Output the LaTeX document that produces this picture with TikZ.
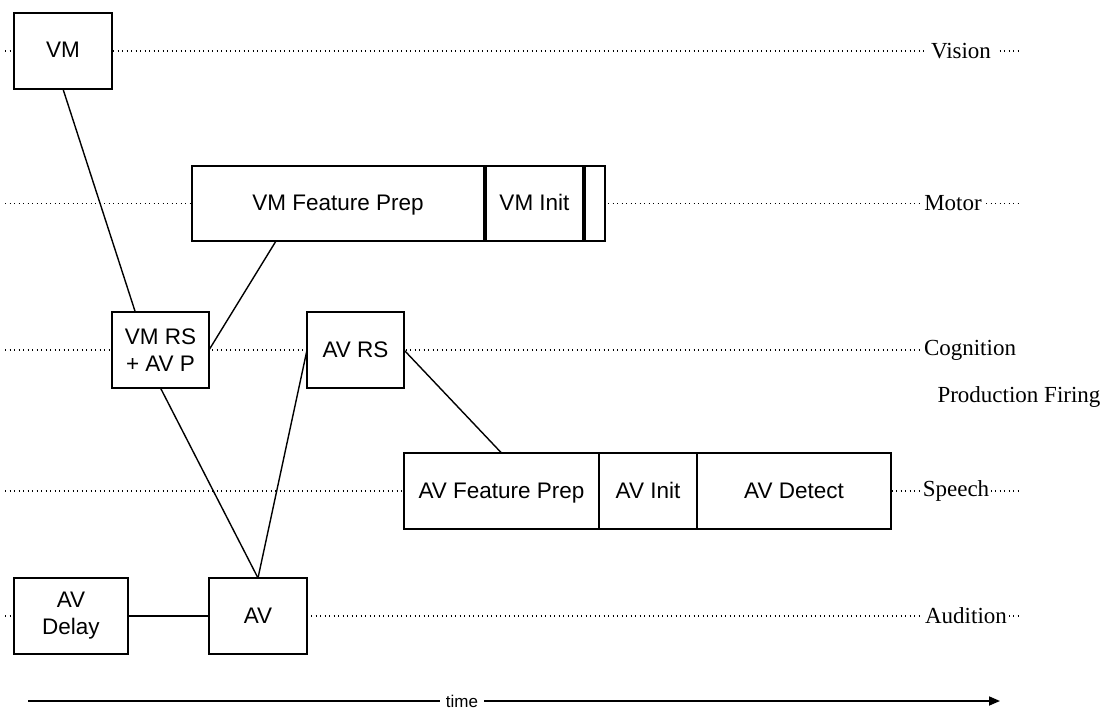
\documentclass[tikz,border=0pt]{standalone}
\usepackage{fontspec}
\setmainfont{Liberation Serif}
\setsansfont{Liberation Sans}
\usetikzlibrary{arrows.meta,positioning,calc}

\begin{document}
\begin{tikzpicture}[
  x=1pt, y=-1pt,
  box/.style={draw, line width=1.5pt, fill=white, outer sep=0pt, inner sep=0pt, minimum height=76pt, align=center, font=\sffamily\fontsize{22.5}{27}\selectfont},
  oneline/.style={text height=16pt, text depth=2pt},
  lane/.style={line width=1.4pt, dash pattern=on 1.4pt off 3.1pt},
  lanelabel/.style={fill=white, inner xsep=2pt, inner ysep=2pt, font=\fontsize{23}{26}\selectfont},
  link/.style={line width=1.4pt},
  timeline/.style={line width=1.7pt}
]
\useasboundingbox (0,0) rectangle (1109,709);

% dotted lanes
\foreach \lname/\ly in {vision/51, motor/203.5, cognition/350, speech/491, audition/616} {
  \coordinate (\lname-w) at (5,\ly);
  \coordinate (\lname-e) at (1018,\ly);
  \draw[lane] (\lname-w) -- (\lname-e);
}

\node[lanelabel, inner xsep=6pt] (vision) at (961,51) {Vision};
\node[lanelabel] (motor) at (953,203.5) {Motor};
\node[lanelabel, inner xsep=4pt] (cognition) at (970,350) {Cognition};
\node[font=\fontsize{23}{26}\selectfont] (prodfiring) at (1019,397) {Production Firing};
\node[lanelabel] (speech) at (956,491) {Speech};
\node[lanelabel] (audition) at (966,616) {Audition};

% boxes
\node[box, oneline, minimum width=98pt] (vm) at (63,51) {VM};
\node[box, oneline, minimum width=292pt, minimum height=75pt] (vmfp) at (338,203.5) {VM Feature Prep};
\node[box, oneline, minimum width=97pt, minimum height=75pt, right=2pt of vmfp] (vminit) {VM Init};
\node[box, minimum width=20pt, minimum height=75pt, right=2pt of vminit] (vmend) {};
\node[box, minimum width=97pt] (vmrs) at (160.5,350) {VM RS\\+ AV P};
\node[box, oneline, minimum width=97pt] (avrs) at (355.5,350) {AV RS};
\node[box, oneline, minimum width=195pt] (avfp) at (501.5,491) {AV Feature Prep};
\node[box, oneline, minimum width=98pt, right=0pt of avfp] (avinit) {AV Init};
\node[box, oneline, minimum width=194pt, right=0pt of avinit] (avdetect) {AV Detect};
\node[box, minimum width=114pt] (avdelay) at (71,616) {AV\\Delay};
\node[box, oneline, minimum width=98pt] (av) at (258,616) {AV};

% connectors
\draw[link] (vm.south) -- ($(vmrs.north west)!0.24!(vmrs.north east)$);
\draw[link] ([xshift=-62pt]vmfp.south) -- (vmrs.east);
\draw[link] (vmrs.south) -- (av.north);
\draw[link] (avrs.west) -- (av.north);
\draw[link] (avrs.east) -- (avfp.north);
\draw[line width=2pt] (avdelay.east) -- (av.west);

% time axis
\node[font=\sffamily\fontsize{17}{20}\selectfont, inner xsep=6pt] (time) at (462,701) {time};
\coordinate (t0) at (28,701);
\coordinate (t1) at (1000,701);
\draw[timeline] (t0) -- (time.west);
\draw[timeline, -{Triangle[length=11pt, width=9pt]}] (time.east) -- (t1);
\end{tikzpicture}
\end{document}
